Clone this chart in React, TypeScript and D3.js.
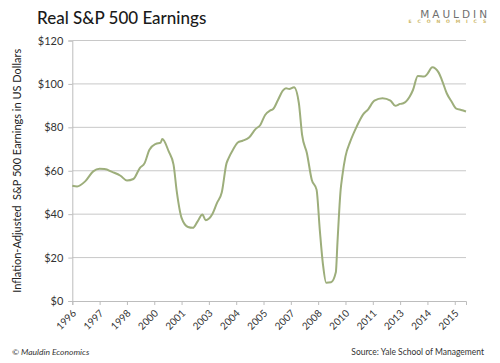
import React, { useEffect, useRef } from 'react'
import * as d3 from 'd3'

// monthly dates (YYYY-MM) and real earnings in US$
const dates = [
  '1996-01', '1996-04', '1996-09', '1997-02', '1997-06', '1997-09', '1998-02', '1998-07',
  '1998-11', '1999-03', '1999-07', '1999-10', '2000-01', '2000-05', '2000-08', '2000-09',
  '2001-01', '2001-04', '2001-06', '2001-09', '2002-01', '2002-04', '2002-07', '2002-10',
  '2002-12', '2003-04', '2003-07', '2003-10', '2004-01', '2004-02', '2004-05', '2004-08',
  '2004-11', '2005-03', '2005-07', '2005-10', '2006-01', '2006-04', '2006-06', '2006-09',
  '2006-12', '2007-02', '2007-04', '2007-07', '2007-10', '2007-12', '2008-03', '2008-06',
  '2008-09', '2008-11', '2009-01', '2009-03', '2009-06', '2009-09', '2009-10', '2009-12',
  '2010-01', '2010-03', '2010-06', '2010-10', '2011-02', '2011-05', '2011-09', '2012-02',
  '2012-07', '2012-10', '2013-01', '2013-03', '2013-07', '2013-09', '2013-12', '2014-04',
  '2014-06', '2014-09', '2015-01', '2015-03', '2015-06', '2015-09', '2015-12', '2016-03',
  '2016-06'
]
const earnings = [
  53.1, 52.8, 55.1, 59.7, 60.9, 60.8, 59.4, 57.7,
  55.5, 56.2, 61.2, 63.5, 69.7, 72.4, 73.0, 74.6,
  68.9, 62.8, 50.5, 38.3, 34.1, 33.7, 36.7, 39.8,
  37.2, 39.8, 45.1, 50.0, 63.5, 65.4, 69.7, 73.0,
  73.8, 75.3, 79.2, 81.1, 85.7, 87.7, 88.4, 92.6,
  96.9, 98.0, 97.7, 98.5, 91.1, 76.5, 68.1, 55.9,
  51.3, 32.9, 16.8, 8.4, 8.6, 13.2, 26.8, 51.3,
  57.4, 66.6, 73.5, 80.4, 86.0, 88.2, 92.3, 93.4,
  92.3, 89.9, 90.8, 91.1, 94.2, 97.2, 103.7, 103.4,
  104.6, 107.7, 105.2, 101.8, 95.7, 91.9, 88.6, 88.0,
  87.3
]

// category axis: a label every 17 months, as in the original
const tickDates = [
  '1996-01', '1997-06', '1998-11', '2000-04', '2001-09', '2003-02', '2004-07', '2005-12',
  '2007-05', '2008-10', '2010-03', '2011-08', '2013-01', '2014-06', '2015-11'
]
const yTicks = [0, 20, 40, 60, 80, 100, 120]

const title = 'Real S&P 500 Earnings'
const yLabel = 'Inflation-Adjusted  S&P 500 Earnings in US Dollars'
const copyright = '© Mauldin Economics'
const source = 'Source: Yale School of Management'

const monthIndex = (s: string) => {
  const [y, m] = s.split('-').map(Number)
  return (y - 1996) * 12 + (m - 1)
}

const W = 500
const H = 363
const font = 'Lato, "Open Sans", sans-serif'

export default function App() {
  const svgRef = useRef<SVGSVGElement>(null)

  useEffect(() => {
    document.body.style.margin = '0'
    if (!svgRef.current) return
    const svg = d3.select(svgRef.current)
    svg.selectAll('*').remove()

    const x = d3.scaleLinear().domain([0, 245]).range([72.3, 466])
    const y = d3.scaleLinear().domain([0, 120]).range([301, 40.5])

    // horizontal grid
    svg.append('g')
      .selectAll('line')
      .data(yTicks.slice(1))
      .join('line')
      .attr('x1', x(0))
      .attr('x2', x(245))
      .attr('y1', d => y(d))
      .attr('y2', d => y(d))
      .attr('stroke', '#c8c8c8')
      .attr('stroke-width', 1)

    // y axis
    const yAxis = svg.append('g')
      .attr('transform', `translate(${x(0)},0)`)
      .call(d3.axisLeft(y).tickValues(yTicks).tickSize(4).tickPadding(5).tickFormat(d => `$${d}`))
    yAxis.select('.domain').attr('stroke', '#bdbdbd')
    yAxis.selectAll('.tick line').attr('stroke', '#bdbdbd')
    yAxis.selectAll('text')
      .attr('font-family', font)
      .attr('font-size', 11)
      .attr('fill', '#333')

    // x axis
    const xAxis = svg.append('g')
      .attr('transform', `translate(0,${y(0)})`)
      .call(d3.axisBottom(x)
        .tickValues(tickDates.map(monthIndex))
        .tickSize(4)
        .tickFormat((d, i) => tickDates[i].slice(0, 4)))
    xAxis.select('.domain').attr('stroke', '#bdbdbd')
    xAxis.selectAll('.tick line').attr('stroke', '#bdbdbd')
    xAxis.selectAll('text')
      .attr('font-family', font)
      .attr('font-size', 10)
      .attr('fill', '#333')
      .attr('text-anchor', 'end')
      .attr('dy', '0')
      .attr('y', 0)
      .attr('transform', 'translate(4,13) rotate(-45)')

    // line
    const line = d3.line<number>()
      .x((_, i) => x(monthIndex(dates[i])))
      .y(d => y(d))
      .curve(d3.curveMonotoneX)

    svg.append('path')
      .datum(earnings)
      .attr('fill', 'none')
      .attr('stroke', '#9dae7b')
      .attr('stroke-width', 2)
      .attr('stroke-linejoin', 'round')
      .attr('d', line)

    // y axis title
    svg.append('text')
      .attr('transform', `translate(21,${(y(0) + y(120)) / 2}) rotate(-90)`)
      .attr('text-anchor', 'middle')
      .attr('font-family', font)
      .attr('font-size', 11)
      .attr('fill', '#222')
      .style('white-space', 'pre')
      .text(yLabel)

    // chart title
    svg.append('text')
      .attr('x', 37)
      .attr('y', 24)
      .attr('font-family', font)
      .attr('font-size', 17)
      .attr('font-weight', 500)
      .attr('fill', '#1a1a1a')
      .text(title)

    // logo
    svg.append('text')
      .attr('x', 490)
      .attr('y', 17.5)
      .attr('text-anchor', 'end')
      .attr('font-family', '"DejaVu Sans", sans-serif')
      .attr('font-size', 10.5)
      .attr('letter-spacing', 3)
      .attr('fill', '#6f6f6f')
      .text('MAULDIN')
    svg.append('text')
      .attr('x', 492)
      .attr('y', 22.5)
      .attr('text-anchor', 'end')
      .attr('font-family', '"DejaVu Sans", sans-serif')
      .attr('font-size', 4.6)
      .attr('font-weight', 700)
      .attr('letter-spacing', 5.8)
      .attr('fill', '#cdb869')
      .text('ECONOMICS')

    // footer
    svg.append('text')
      .attr('x', 12)
      .attr('y', 355)
      .attr('font-family', font)
      .attr('font-size', 8.5)
      .attr('font-style', 'italic')
      .attr('fill', '#333')
      .text(copyright)
    svg.append('text')
      .attr('x', 484)
      .attr('y', 355)
      .attr('text-anchor', 'end')
      .attr('font-family', font)
      .attr('font-size', 8.5)
      .attr('fill', '#333')
      .text(source)
  }, [])

  return (
    <svg ref={svgRef} width={W} height={H} style={{ display: 'block', background: '#fff' }}>
    </svg>
  )
}
